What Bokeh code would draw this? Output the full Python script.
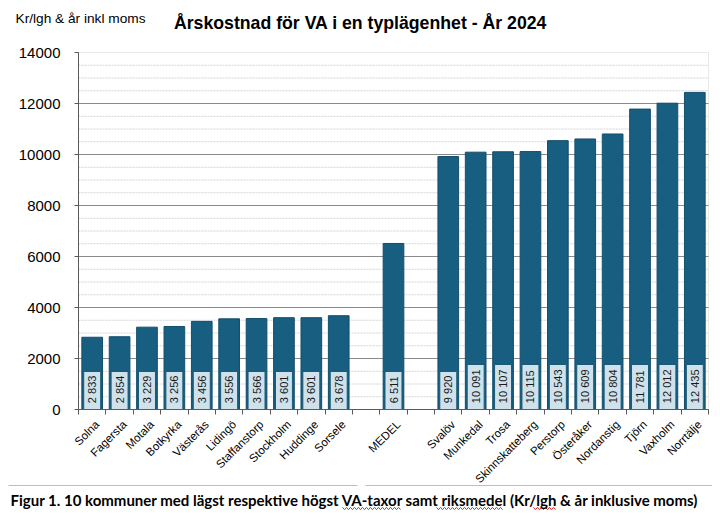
import math
from bokeh.plotting import figure
from bokeh.models import Range1d, FixedTicker, Label, BoxAnnotation, ColumnDataSource
from bokeh.core.properties import value
from bokeh.embed import file_html
from bokeh.resources import INLINE

# ---- data ----
low_names = ["Solna", "Fagersta", "Motala", "Botkyrka", "Västerås", "Lidingö",
             "Staffanstorp", "Stockholm", "Huddinge", "Sorsele"]
low_values = [2833, 2854, 3229, 3256, 3456, 3556, 3566, 3601, 3601, 3678]
mean_name = "MEDEL"
mean_value = 6511
high_names = ["Svalöv", "Munkedal", "Trosa", "Skinnskatteberg", "Perstorp", "Österåker",
              "Nordanstig", "Tjörn", "Vaxholm", "Norrtälje"]
high_values = [9920, 10091, 10107, 10115, 10543, 10609, 10804, 11781, 12012, 12435]
y_ticks = [0, 2000, 4000, 6000, 8000, 10000, 12000, 14000]
y_minor_step = 500

title_text = "Årskostnad för VA i en typlägenhet - År 2024"
ylabel_text = "Kr/lgh & år inkl moms"
caption_text = "Figur 1. 10 kommuner med lägst respektive högst VA-taxor samt riksmedel (Kr/lgh & år inklusive moms)"

# ---- build slots (gap between groups) ----
names = low_names + [""] + [mean_name] + [""] + high_names
vals = low_values + [None] + [mean_value] + [None] + high_values
n = len(names)
ymax = y_ticks[-1]

xs, tops, labels = [], [], []
for i, (nm, v) in enumerate(zip(names, vals)):
    if v is None:
        continue
    xs.append(i + 0.5)
    tops.append(v)
    labels.append(f"{v:,}".replace(",", " "))

box_h = [115 + 275 * len(s) for s in labels]
box_y = [h / 2 for h in box_h]
src = ColumnDataSource(dict(x=xs, top=tops, label=labels, bh=box_h, by=box_y,
                            ty=[250] * len(xs)))

# ---- layout: the frame covers the whole canvas; plot area placed by ranges ----
W, H = 712, 531
XPX0, XPX1 = 78, 708      # pixel columns of x = 0 and x = n
YPX0, YPX1 = 409, 52      # pixel rows of y = 0 and y = ymax
sx = (XPX1 - XPX0) / n
sy = (YPX0 - YPX1) / ymax
def dx(px):
    return (px - XPX0) / sx
def dy(py):
    return (YPX0 - py) / sy

p = figure(width=W, height=H, output_backend="svg", toolbar_location=None,
           x_range=Range1d(dx(0), dx(W)), y_range=Range1d(dy(H), dy(0)),
           min_border=0, title=None)
p.background_fill_color = "white"
p.border_fill_color = "white"
p.outline_line_color = None
p.xgrid.visible = False
p.ygrid.visible = False

# grid lines
minor = [t for t in range(y_minor_step, ymax, y_minor_step) if t not in y_ticks]
major = y_ticks[1:-1]
p.segment(x0=[0] * len(minor), x1=[n] * len(minor), y0=minor, y1=minor,
          line_color="#d4d4d4", line_width=1, line_dash="2 1")
p.segment(x0=[0] * len(major), x1=[n] * len(major), y0=major, y1=major,
          line_color="#8a8a8a", line_width=1)
p.add_layout(BoxAnnotation(left=0, right=n, bottom=0, top=ymax, fill_alpha=0,
                           line_color="#b4b4b4", line_width=1, level="underlay"))

# bars + value boxes
BAR = "#175e80"
p.vbar(x="x", top="top", width=0.755, bottom=0, source=src,
       fill_color=BAR, line_color="#124f6c", line_width=1)
p.rect(x="x", y="by", width=0.62, height="bh", source=src,
       fill_color="#cfe2ec", line_color="#1a5a78", line_width=1)
p.text(x="x", y="ty", text="label", source=src, angle=math.pi / 2,
       text_align="left", text_baseline="middle",
       text_font=value("Liberation Sans"), text_font_size="11px",
       text_color="#1a1a1a")

# y axis (fixed at x = 0)
yax = p.yaxis[0]
yax.fixed_location = 0
yax.bounds = (0, ymax)
yax.ticker = FixedTicker(ticks=y_ticks, minor_ticks=[])
yax.major_label_text_font = "Liberation Sans"
yax.major_label_text_font_size = "15px"
yax.major_label_text_color = "#000000"
yax.axis_line_color = "#5a5a5a"
yax.major_tick_line_color = "#5a5a5a"
yax.major_tick_in = 0
yax.major_tick_out = 4
yax.minor_tick_line_color = None
yax.major_label_standoff = 14

# x axis (fixed at y = 0): labels near bar centres, ticks at slot boundaries
xax = p.xaxis[0]
xax.fixed_location = 0
xax.bounds = (0, n)
shift = 5 / sx
centers = [i + 0.5 + shift for i in range(n)]
xax.ticker = FixedTicker(ticks=centers, minor_ticks=list(range(n + 1)))
xax.major_label_overrides = {c: nm for c, nm in zip(centers, names)}
xax.major_tick_line_color = None
xax.minor_tick_line_color = "#5a5a5a"
xax.minor_tick_in = 0
xax.minor_tick_out = 5
xax.axis_line_color = "#5a5a5a"
xax.major_label_orientation = math.pi / 4
xax.major_label_text_font = "Liberation Sans"
xax.major_label_text_font_size = "11.5px"
xax.major_label_text_color = "#000000"
xax.major_label_standoff = 7

# texts
p.add_layout(Label(x=dx(360), y=dy(22), text=title_text,
                   text_align="center", text_baseline="middle",
                   text_font="Liberation Sans", text_font_style="bold",
                   text_font_size="17.7px", text_color="#000000"))
p.add_layout(Label(x=dx(15), y=dy(18), text=ylabel_text,
                   text_align="left", text_baseline="middle",
                   text_font="Liberation Sans", text_font_size="13.7px",
                   text_color="#000000"))
p.add_layout(Label(x=dx(10), y=dy(499), text=caption_text,
                   text_align="left", text_baseline="middle",
                   text_font="Lato", text_font_style="bold",
                   text_font_size="15px", text_color="#000000"))

# faint picture frame line under the chart
p.segment(x0=[dx(8), dx(365)], x1=[dx(357), dx(712)], y0=[dy(485)] * 2, y1=[dy(485)] * 2,
          line_color="#bdbdbd", line_width=1)

# red spell-check squiggles under three caption words (decoration)
squig_x, squig_y = [], []
for a, b in [(342, 400), (436, 503), (533, 555)]:
    px = list(range(a, b + 1, 2))
    squig_x.append([dx(v) for v in px])
    squig_y.append([dy(508 + (1.2 if k % 2 else -1.2)) for k in range(len(px))])
p.multi_line(xs=squig_x, ys=squig_y, line_color="#e03030", line_width=1)

open("out.html", "w").write(file_html(p, INLINE))
